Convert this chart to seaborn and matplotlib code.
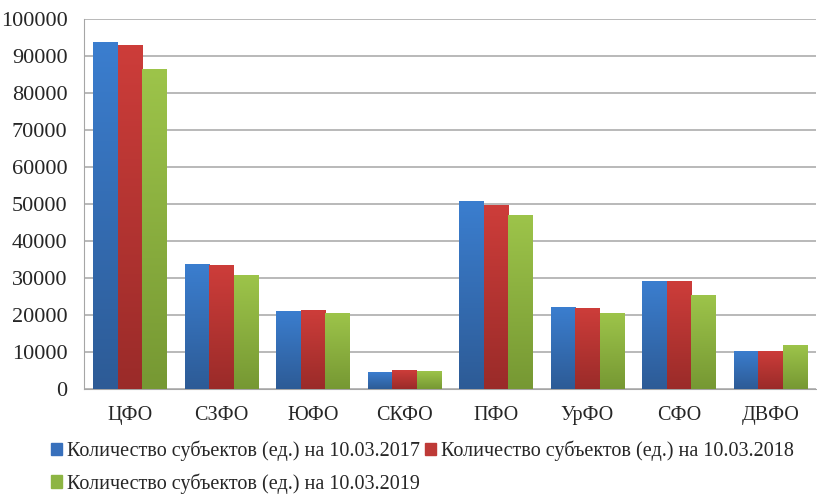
import numpy as np
import seaborn as sns
import pandas as pd
import matplotlib.pyplot as plt
from matplotlib.patches import Patch
from matplotlib.colors import LinearSegmentedColormap

# Federal districts and counts of subjects at three dates
districts = ['ЦФО', 'СЗФО', 'ЮФО', 'СКФО', 'ПФО', 'УрФО', 'СФО', 'ДВФО']
vals_2017 = [93700, 33700, 21100, 4500, 50700, 22100, 29100, 10350]
vals_2018 = [93000, 33400, 21350, 5050, 49700, 21800, 29100, 10350]
vals_2019 = [86400, 30800, 20450, 4800, 46900, 20450, 25400, 11800]
series_names = ['Количество субъектов (ед.) на 10.03.2017',
                'Количество субъектов (ед.) на 10.03.2018',
                'Количество субъектов (ед.) на 10.03.2019']
colors = ['#3870BC', '#BE3A37', '#8DB543']
top_colors = ['#3B7ECF', '#CD3D3A', '#9DC44A']
bottom_colors = ['#2D5B96', '#9A2B29', '#769833']

df = pd.DataFrame({
    'district': districts * 3,
    'value': vals_2017 + vals_2018 + vals_2019,
    'series': [series_names[0]] * 8 + [series_names[1]] * 8 + [series_names[2]] * 8,
})

sns.set_style('white')
plt.rcParams['font.family'] = ['Liberation Serif', 'DejaVu Serif']

fig = plt.figure(figsize=(8.17, 4.94), dpi=100)
ax = fig.add_axes([0.103, 0.2126, 0.896, 0.7489])

sns.barplot(data=df, x='district', y='value', hue='series', palette=colors,
            width=0.8, gap=0, saturation=1, linewidth=0, ax=ax, legend=False, zorder=3)

ax.set_ylim(0, 100000)
ax.set_xlim(-0.5, 7.5)

# vertical gradient on each bar (lighter at top, darker at bottom)
grad = np.linspace(0, 1, 256).reshape(-1, 1)
for i, patch in enumerate(list(ax.patches)):
    s = i // len(districts)
    cmap = LinearSegmentedColormap.from_list('g%d' % s, [bottom_colors[s], top_colors[s]])
    x0, y0 = patch.get_x(), patch.get_y()
    w, h = patch.get_width(), patch.get_height()
    im = ax.imshow(grad, cmap=cmap, aspect='auto', origin='lower',
                   extent=[x0, x0 + w, y0, y0 + h], zorder=3.5)
    im.set_clip_path(patch)
    patch.set_alpha(0)

ax.set_ylim(0, 100000)
ax.set_xlim(-0.5, 7.5)
ax.set_yticks(range(0, 100001, 10000))
ax.yaxis.grid(True, color='#A6A6A6', linewidth=1.1, zorder=0)
ax.set_axisbelow(True)
for side in ['top', 'right']:
    ax.spines[side].set_visible(False)
ax.spines['left'].set_color('#A6A6A6')
ax.spines['bottom'].set_color('#A6A6A6')
ax.tick_params(length=0)
ax.tick_params(axis='x', pad=12, labelsize=14.5)
ax.tick_params(axis='y', pad=12, labelsize=16)
ax.set_xlabel('')
ax.set_ylabel('')

handles = [Patch(color=c) for c in colors]
order = [0, 2, 1]
fig.legend([handles[i] for i in order], [series_names[i] for i in order],
           ncol=2, loc='lower left', bbox_to_anchor=(0.04, -0.036),
           frameon=False, fontsize=14.5, handlelength=0.55, handleheight=0.55,
           handletextpad=0.25, columnspacing=0.25, labelspacing=0.6)

plt.savefig('out.png', dpi=100)
